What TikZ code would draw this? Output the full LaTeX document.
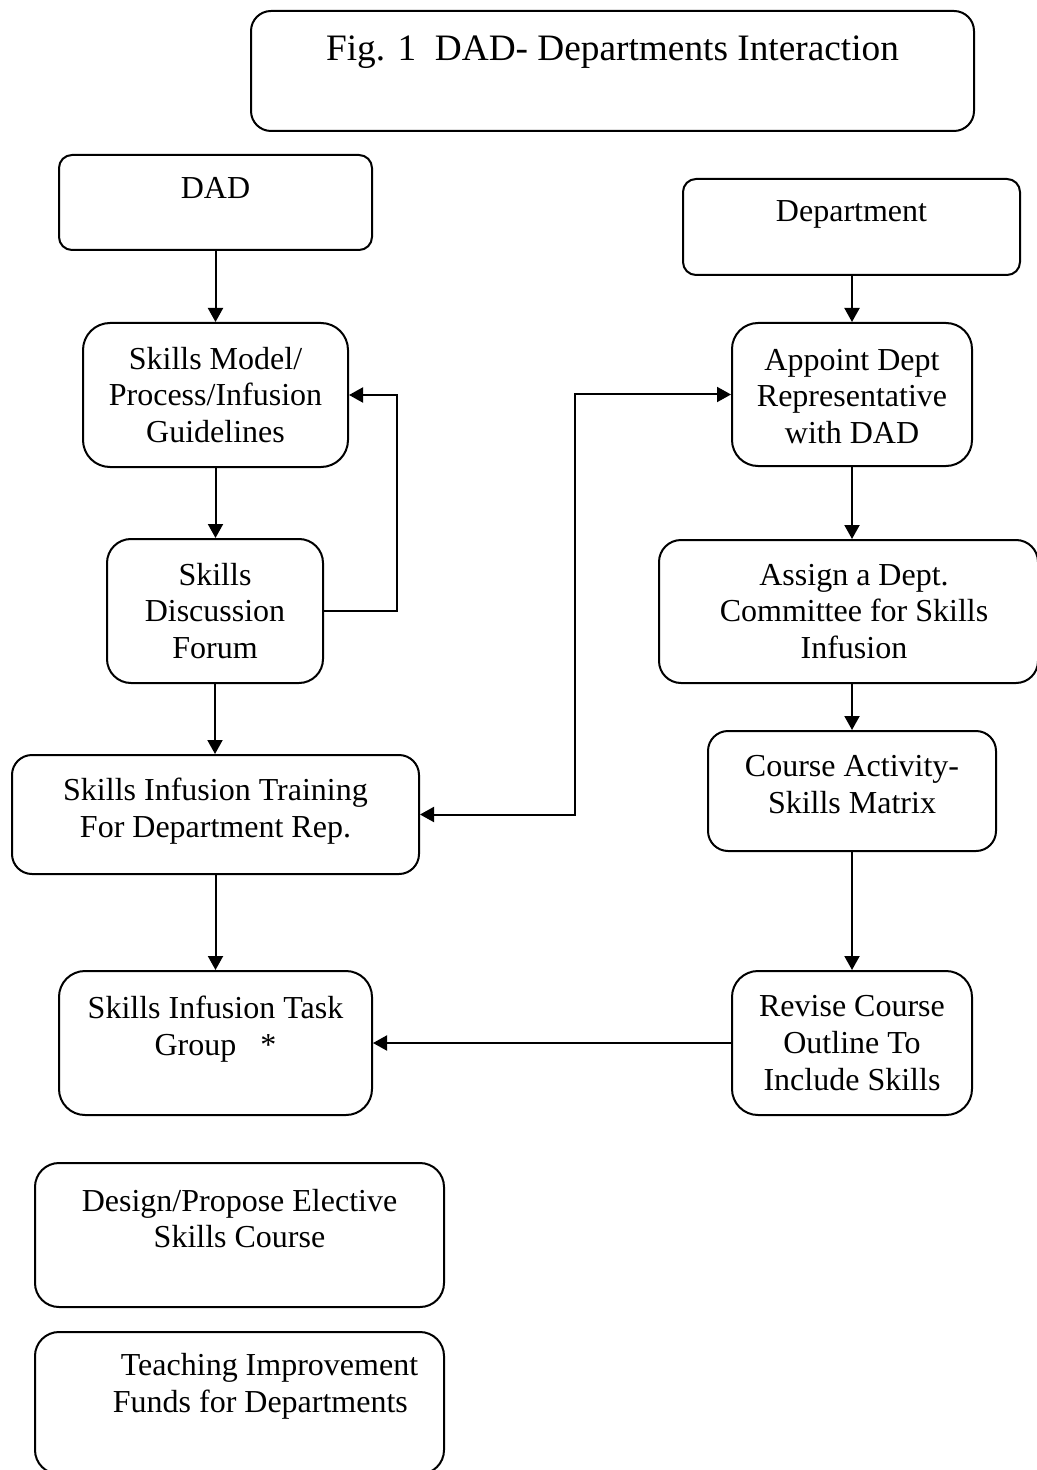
\documentclass[tikz,border=0pt]{standalone}
\usepackage{fontspec}
\setmainfont{Liberation Serif}
\usetikzlibrary{arrows.meta}
\begin{document}
\begin{tikzpicture}[x=0.5pt,y=-0.5pt,
  box/.style={draw, line width=1pt, inner sep=0pt},
  lbl/.style={align=center, inner sep=0pt, font=\fontsize{16}{18.4}\selectfont},
  arr/.style={line width=1pt, -{Triangle[length=7pt,width=7.5pt]}},
  darr/.style={line width=1pt, {Triangle[length=7pt,width=7.5pt]}-{Triangle[length=7pt,width=7.5pt]}},
  ]
\useasboundingbox (0,0) rectangle (1037,1470);

% title
\node[box, minimum width=361.5pt, minimum height=60pt, rounded corners=10pt,
  label={[lbl, font=\fontsize{18.65}{22}\selectfont, yshift=9.5pt]center:Fig. 1~~DAD- Departments Interaction}] (title) at (612.5,71) {};

% left column
\node[box, minimum width=156.5pt, minimum height=47.5pt, rounded corners=6.5pt,
  label={[lbl, yshift=7.5pt]center:DAD}] (dad) at (215.5,202.5) {};
\node[box, minimum width=132.5pt, minimum height=72pt, rounded corners=13.5pt,
  label={[lbl]center:Skills Model/\\Process/Infusion\\Guidelines}] (sm) at (215.5,395) {};
\node[box, minimum width=108pt, minimum height=72pt, rounded corners=12pt,
  label={[lbl]center:Skills\\Discussion\\Forum}] (disc) at (215,611) {};
\node[box, minimum width=203.5pt, minimum height=59.5pt, rounded corners=10pt,
  label={[lbl, yshift=1.75pt]center:Skills Infusion Training\\For Department Rep.}] (train) at (215.5,814.5) {};
\node[box, minimum width=156.5pt, minimum height=72pt, rounded corners=13pt,
  label={[lbl, yshift=7pt]center:Skills Infusion Task\\Group~~~*}] (task) at (215.5,1043) {};
\node[box, minimum width=204.5pt, minimum height=72pt, rounded corners=12pt,
  label={[lbl, yshift=8.25pt]center:Design/Propose Elective\\Skills Course}] (design) at (239.5,1235) {};
\node[box, minimum width=204.5pt, minimum height=71pt, rounded corners=12pt,
  label={[lbl, align=left, yshift=8.25pt, xshift=13pt]center:\hspace*{4pt}Teaching Improvement\\Funds for Departments}] (teach) at (239.5,1403) {};

% right column
\node[box, minimum width=168.5pt, minimum height=48pt, rounded corners=6.5pt,
  label={[lbl, yshift=6.25pt]center:Department}] (dept) at (851.5,227) {};
\node[box, minimum width=120pt, minimum height=71.5pt, rounded corners=13pt,
  label={[lbl, yshift=-1pt]center:Appoint Dept\\Representative\\with DAD}] (appoint) at (852,394.5) {};
\node[box, minimum width=189.5pt, minimum height=71.5pt, rounded corners=11pt,
  label={[lbl, xshift=2.75pt]center:Assign a Dept.\\Committee for Skills\\Infusion}] (assign) at (848.5,611.5) {};
\node[box, minimum width=144pt, minimum height=60pt, rounded corners=10pt,
  label={[lbl, yshift=3.25pt]center:Course Activity-\\Skills Matrix}] (course) at (852,791) {};
\node[box, minimum width=120pt, minimum height=72pt, rounded corners=13pt,
  label={[lbl]center:Revise Course\\Outline To\\Include Skills}] (revise) at (852,1043) {};

\coordinate (jog) at (575,600);

% connectors
\draw[arr] (dad.south) -- (sm.north);
\draw[arr] (sm.south) -- (disc.north -| sm.south);
\draw[arr] (disc.east) -- ++(73,0) |- (sm.east);
\draw[arr] (disc.south) -- (train.north -| disc.south);
\draw[arr] (train.south) -- (task.north);
\draw[darr] (train.east) -| (jog) |- (appoint.west);
\draw[arr] (dept.south -| appoint.north) -- (appoint.north);
\draw[arr] (appoint.south) -- (appoint.south |- assign.north);
\draw[arr] (course.north |- assign.south) -- (course.north);
\draw[arr] (course.south) -- (revise.north);
\draw[arr] (revise.west) -- (task.east);
\end{tikzpicture}
\end{document}
